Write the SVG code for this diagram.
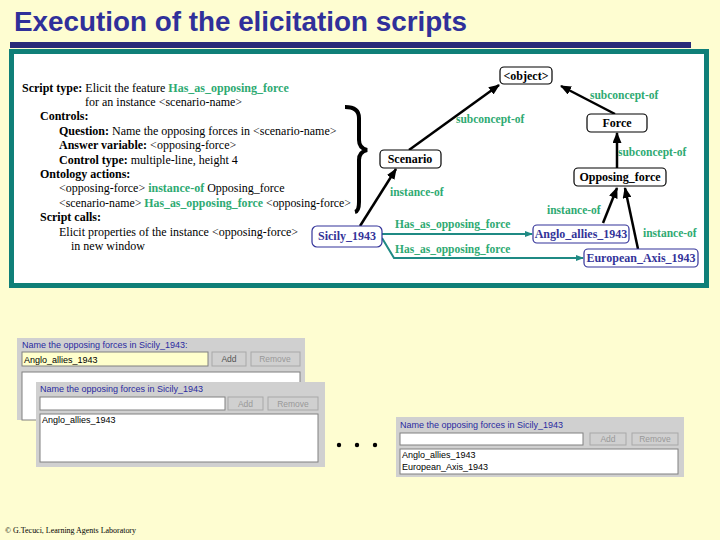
<svg xmlns="http://www.w3.org/2000/svg" width="720" height="540" viewBox="0 0 720 540">
<defs>
<marker id="ab" markerUnits="userSpaceOnUse" markerWidth="11" markerHeight="9" refX="10" refY="4.5" orient="auto"><path d="M0,0 L11,4.5 L0,9 Z" fill="#000"/></marker>
<marker id="at" markerUnits="userSpaceOnUse" markerWidth="8" markerHeight="6" refX="7" refY="3" orient="auto"><path d="M0,0 L8,3 L0,6 Z" fill="#1f8a84"/></marker>
<style>
.t{font-family:"Liberation Serif","Times New Roman",serif;font-size:12px;fill:#000}
.b{font-weight:bold}
.g{fill:#2eaa72;font-weight:bold}
.lbl{font-family:"Liberation Serif","Times New Roman",serif;font-size:11.5px;font-weight:bold;fill:#2eaa72}
.nb{fill:#fff;stroke:#000;stroke-width:1.2}
.nu{fill:#fff;stroke:#333399;stroke-width:1.2}
.nt{font-family:"Liberation Serif","Times New Roman",serif;font-size:12px;font-weight:bold;text-anchor:middle;fill:#000}
.ntb{fill:#333399}
.e{stroke:#000;stroke-width:2.5;fill:none;marker-end:url(#ab)}
.et{stroke:#1f8a84;stroke-width:2;fill:none;marker-end:url(#at)}
.win{fill:#d0d0d0}
.fld{fill:#fff;stroke:#808080;stroke-width:1}
.btn{fill:#d0d0d0;stroke:#a8a8a8;stroke-width:1}
.wt{font-family:"Liberation Sans",Arial,sans-serif;font-size:9px;fill:#2a2aa0}
.ft{font-family:"Liberation Sans",Arial,sans-serif;font-size:9px;fill:#000}
.bt{font-family:"Liberation Sans",Arial,sans-serif;font-size:8.5px;fill:#999;text-anchor:middle}
</style>
</defs>
<rect width="720" height="540" fill="#fefdd1"/>
<text x="14" y="31" font-family="Liberation Sans,Arial,sans-serif" font-size="27" font-weight="bold" fill="#30309a" textLength="453" lengthAdjust="spacingAndGlyphs">Execution of the elicitation scripts</text>
<rect x="10" y="42" width="681" height="6" fill="#2a2a78"/>
<rect x="11.5" y="51.5" width="695" height="234" fill="#fff" stroke="#0f7f78" stroke-width="5"/>

<g id="script-text">
<text class="t" x="22" y="92"><tspan class="b">Script type:</tspan> Elicit the feature <tspan class="g">Has_as_opposing_force</tspan></text>
<text class="t" x="85" y="106">for an instance &lt;scenario-name&gt;</text>
<text class="t b" x="40" y="120">Controls:</text>
<text class="t" x="59" y="135"><tspan class="b">Question:</tspan> Name the opposing forces in &lt;scenario-name&gt;</text>
<text class="t" x="59" y="149"><tspan class="b">Answer variable:</tspan> &lt;opposing-force&gt;</text>
<text class="t" x="59" y="164"><tspan class="b">Control type:</tspan> multiple-line, height 4</text>
<text class="t b" x="40" y="178">Ontology actions:</text>
<text class="t" x="59" y="192">&lt;opposing-force&gt; <tspan class="g">instance-of</tspan> Opposing_force</text>
<text class="t" x="59" y="207" textLength="292" lengthAdjust="spacingAndGlyphs">&lt;scenario-name&gt; <tspan class="g">Has_as_opposing_force</tspan> &lt;opposing-force&gt;</text>
<text class="t b" x="40" y="221">Script calls:</text>
<text class="t" x="59" y="236">Elicit properties of the instance &lt;opposing-force&gt;</text>
<text class="t" x="71" y="250">in new window</text>
<path d="M345,107 Q359,107 359,118 L359,140 Q359,148 367,150 Q359,152 359,160 L359,202 Q359,211 355,212" fill="none" stroke="#000" stroke-width="4"/>
</g>

<g id="connectors">
<path class="e" d="M409,150 L499,85"/>
<path class="e" d="M615,114 L561,86"/>
<path class="e" d="M617,168 L617,133"/>
<path class="e" d="M360,226 L396,169"/>
<path class="e" d="M603,223 L617,188"/>
<path class="e" d="M638,249 L625,188"/>
<path class="et" d="M382,234 L532,234"/>
<path class="et" d="M382,238 L394,258 L583,258"/>
<text class="lbl" x="456" y="123">subconcept-of</text>
<text class="lbl" x="590" y="99">subconcept-of</text>
<text class="lbl" x="618" y="156">subconcept-of</text>
<text class="lbl" x="390" y="196">instance-of</text>
<text class="lbl" x="547" y="214">instance-of</text>
<text class="lbl" x="643" y="237">instance-of</text>
<text class="lbl" x="395" y="228">Has_as_opposing_force</text>
<text class="lbl" x="395" y="253">Has_as_opposing_force</text>
</g>

<g id="object"><rect class="nb" x="500" y="67" width="52" height="17" rx="4"/><text class="nt" x="526" y="80">&lt;object&gt;</text></g>
<g id="force"><rect class="nb" x="587" y="114" width="60" height="18" rx="4"/><text class="nt" x="617" y="127">Force</text></g>
<g id="scenario"><rect class="nb" x="380" y="150" width="61" height="18" rx="4"/><text class="nt" x="410" y="163">Scenario</text></g>
<g id="opposing_force"><rect class="nb" x="574" y="168" width="92" height="18" rx="4"/><text class="nt" x="620" y="181">Opposing_force</text></g>
<g id="sicily"><rect class="nu" x="312" y="226" width="70" height="21" rx="5"/><text class="nt ntb" x="347" y="240">Sicily_1943</text></g>
<g id="anglo"><rect class="nu" x="533" y="225" width="96" height="18" rx="4"/><text class="nt ntb" x="581" y="238">Anglo_allies_1943</text></g>
<g id="axis"><rect class="nu" x="584" y="249" width="114" height="18" rx="4"/><text class="nt ntb" x="641" y="262">European_Axis_1943</text></g>

<g id="window1">
<rect class="win" x="17" y="338" width="288" height="82"/>
<text class="wt" x="22" y="348">Name the opposing forces in Sicily_1943:</text>
<rect x="22" y="352" width="186" height="14" fill="#ffffcc" stroke="#808080"/>
<text class="ft" x="24" y="363">Anglo_allies_1943</text>
<rect class="btn" x="212" y="352" width="34" height="14"/>
<text class="bt" x="229" y="362" style="fill:#555">Add</text>
<rect class="btn" x="251" y="352" width="49" height="14"/>
<text class="bt" x="275" y="362">Remove</text>
<rect class="fld" x="22" y="372" width="278" height="48"/>
</g>

<g id="window2">
<rect class="win" x="36" y="382" width="289" height="85"/>
<text class="wt" x="40" y="392">Name the opposing forces in Sicily_1943</text>
<rect class="fld" x="40" y="397" width="185" height="13"/>
<rect class="btn" x="228" y="397" width="35" height="13"/>
<text class="bt" x="245.5" y="407">Add</text>
<rect class="btn" x="268" y="397" width="50" height="13"/>
<text class="bt" x="293" y="407">Remove</text>
<rect class="fld" x="40" y="414" width="278" height="48"/>
<text class="ft" x="42" y="423">Anglo_allies_1943</text>
</g>

<g id="dots" fill="#000">
<circle cx="339" cy="445" r="2.2"/><circle cx="357" cy="445" r="2.2"/><circle cx="375" cy="445" r="2.2"/>
</g>

<g id="window3">
<rect class="win" x="396" y="417" width="288" height="60"/>
<text class="wt" x="400" y="428">Name the opposing forces in Sicily_1943</text>
<rect class="fld" x="400" y="433" width="183" height="12"/>
<rect class="btn" x="590" y="433" width="36" height="12"/>
<text class="bt" x="608" y="442">Add</text>
<rect class="btn" x="632" y="433" width="46" height="12"/>
<text class="bt" x="655" y="442">Remove</text>
<rect class="fld" x="400" y="449" width="278" height="25"/>
<text class="ft" x="402" y="458">Anglo_allies_1943</text>
<text class="ft" x="402" y="470">European_Axis_1943</text>
</g>

<text x="5" y="533" font-family="Liberation Serif,Times New Roman,serif" font-size="8" fill="#000" textLength="131" lengthAdjust="spacingAndGlyphs">© G.Tecuci, Learning Agents Laboratory</text>
</svg>
